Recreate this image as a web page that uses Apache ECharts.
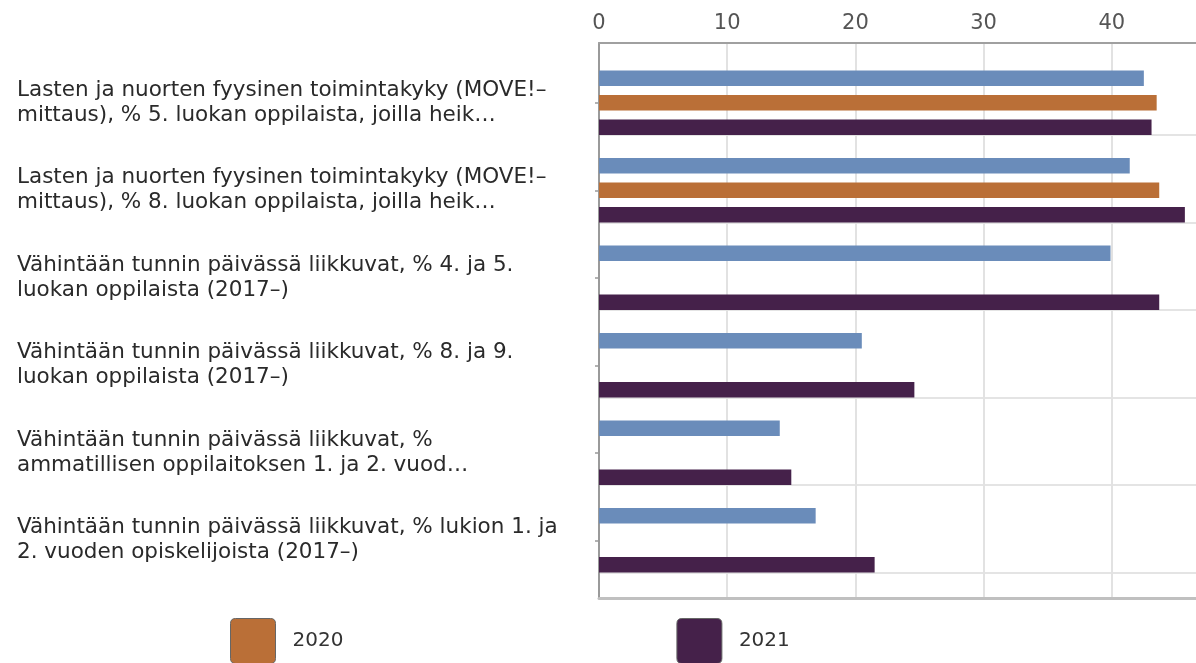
<!DOCTYPE html>
<html>
<head>
<meta charset="utf-8">
<script src="https://cdn.jsdelivr.net/npm/echarts@6/dist/echarts.min.js"></script>
<style>
html,body{margin:0;padding:0;background:#fff;}
#chart{width:1196px;height:663px;}
</style>
</head>
<body>
<div id="chart"></div>
<script>
const categories = [
  "Lasten ja nuorten fyysinen toimintakyky (MOVE!–\nmittaus), % 5. luokan oppilaista, joilla heik…",
  "Lasten ja nuorten fyysinen toimintakyky (MOVE!–\nmittaus), % 8. luokan oppilaista, joilla heik…",
  "Vähintään tunnin päivässä liikkuvat, % 4. ja 5.\nluokan oppilaista (2017–)",
  "Vähintään tunnin päivässä liikkuvat, % 8. ja 9.\nluokan oppilaista (2017–)",
  "Vähintään tunnin päivässä liikkuvat, %\nammatillisen oppilaitoksen 1. ja 2. vuod…",
  "Vähintään tunnin päivässä liikkuvat, % lukion 1. ja\n2. vuoden opiskelijoista (2017–)"
];
const seriesNames = ["2019", "2020", "2021"];
const values2019 = [42.5, 41.4, 39.9, 20.5, 14.1, 16.9];
const values2020 = [43.5, 43.7, null, null, null, null];
const values2021 = [43.1, 45.7, 43.7, 24.6, 15.0, 21.5];
const legendItems = ["2020", "2021"];
const axisMin = 0, axisMax = 50, axisInterval = 10;

const colors = ["#6a8cba", "#ba6f37", "#45214a"];
const FONT = "DejaVu Sans";
const L = 599, R = -44;

const chart = echarts.init(document.getElementById('chart'), null, {renderer: 'canvas'});
const option = {
  backgroundColor: '#ffffff',
  animation: false,
  legend: {
    data: legendItems,
    left: 230, top: 618, padding: 0,
    itemWidth: 45, itemHeight: 45, itemGap: 333,
    icon: 'path://M5,0 H40 Q45,0 45,5 V40 Q45,45 40,45 H5 Q0,45 0,40 V5 Q0,0 5,0 Z',
    itemStyle: {borderColor: '#666', borderWidth: 1},
    textStyle: {fontFamily: FONT, fontSize: 20, color: '#333', padding: [0, 0, 4, 12], width: 50}
  },
  grid: [
    {left: L, right: R, top: 59, bottom: 79, containLabel: false, outerBoundsMode: 'none'},
    {left: L, right: R, top: 43, bottom: 65, containLabel: false, outerBoundsMode: 'none'},
    {left: L, right: R, top: 134.75, bottom: 90.75, containLabel: false, outerBoundsMode: 'none'}
  ],
  xAxis: [
    {gridIndex: 0, type: 'value', min: axisMin, max: axisMax, interval: axisInterval, show: false},
    {gridIndex: 1, type: 'value', position: 'top', min: axisMin, max: axisMax, interval: axisInterval,
      axisLine: {show: true, onZero: false, lineStyle: {color: '#a0a0a0', width: 2}},
      axisTick: {show: false},
      axisLabel: {fontFamily: FONT, fontSize: 21, color: '#555', margin: 9},
      splitLine: {show: true, lineStyle: {color: '#e2e2e2', width: 2}}
    },
    {gridIndex: 1, type: 'value', position: 'bottom', min: axisMin, max: axisMax, interval: axisInterval,
      axisLine: {show: true, onZero: false, lineStyle: {color: '#c0c0c0', width: 3}},
      axisTick: {show: false}, axisLabel: {show: false}, splitLine: {show: false}
    },
    {gridIndex: 2, type: 'value', min: axisMin, max: axisMax, interval: axisInterval, show: false}
  ],
  yAxis: [
    {gridIndex: 0, type: 'category', data: categories, inverse: true,
      axisLine: {show: false, onZero: false},
      axisTick: {show: true, alignWithLabel: true, length: 4, lineStyle: {color: '#999', width: 1.5}},
      axisLabel: {interval: 0, align: 'left', margin: 582, fontFamily: FONT, fontSize: 21.5, lineHeight: 25, color: '#2a2a2a'},
      splitLine: {show: false}
    },
    {gridIndex: 1, type: 'value', min: 0, max: 1,
      axisLine: {show: true, onZero: false, lineStyle: {color: '#9a9a9a', width: 2}},
      axisTick: {show: false}, axisLabel: {show: false}, splitLine: {show: false}
    },
    {gridIndex: 2, type: 'category', data: categories, boundaryGap: false,
      axisLine: {show: false}, axisTick: {show: false}, axisLabel: {show: false, interval: 0},
      splitLine: {show: true, interval: 0, lineStyle: {color: '#e4e4e4', width: 2}}
    }
  ],
  series: [
    {name: seriesNames[0], type: 'bar', xAxisIndex: 0, yAxisIndex: 0, data: values2019,
      barWidth: 15.5, barGap: '58%', itemStyle: {color: colors[0]}},
    {name: seriesNames[1], type: 'bar', xAxisIndex: 0, yAxisIndex: 0, data: values2020,
      barWidth: 15.5, barGap: '58%', itemStyle: {color: colors[1]}},
    {name: seriesNames[2], type: 'bar', xAxisIndex: 0, yAxisIndex: 0, data: values2021,
      barWidth: 15.5, barGap: '58%', itemStyle: {color: colors[2]}}
  ]
};
chart.setOption(option);
</script>
</body>
</html>
